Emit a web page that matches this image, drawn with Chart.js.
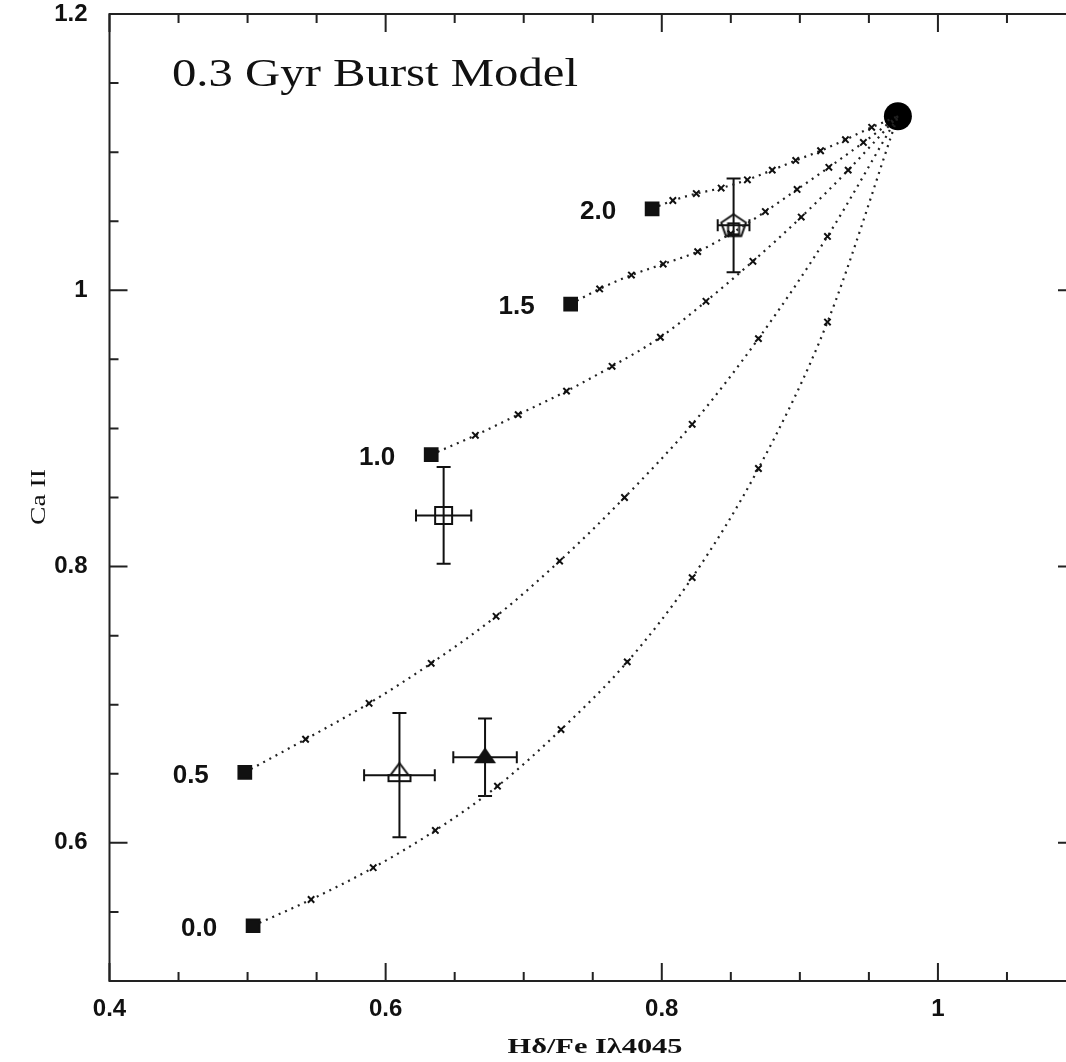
<!DOCTYPE html>
<html>
<head>
<meta charset="utf-8">
<script src="https://cdn.jsdelivr.net/npm/chart.js@4.4.1/dist/chart.umd.min.js"></script>
<style>
  html, body { margin: 0; padding: 0; background: #fff; overflow: hidden; }
  #wrap { width: 1090px; height: 1062px; }
</style>
</head>
<body>
<div id="wrap"><canvas id="myChart" width="1090" height="1062"></canvas></div>
<script>
// burst model tracks: first point = starting square, then the x marks
let trackNames = ['0.0', '0.5', '1.0', '1.5', '2.0'];
let track00X = [0.504, 0.546, 0.591, 0.636, 0.681, 0.727, 0.775, 0.822, 0.870, 0.920];
let track00Y = [0.540, 0.559, 0.582, 0.609, 0.641, 0.682, 0.731, 0.792, 0.871, 0.977];
let track05X = [0.498, 0.542, 0.588, 0.633, 0.680, 0.726, 0.773, 0.822, 0.870, 0.920];
let track05Y = [0.651, 0.675, 0.701, 0.730, 0.764, 0.804, 0.850, 0.903, 0.965, 1.039];
let track10X = [0.633, 0.665, 0.696, 0.731, 0.764, 0.799, 0.832, 0.866, 0.901, 0.935];
let track10Y = [0.881, 0.895, 0.910, 0.927, 0.945, 0.966, 0.992, 1.021, 1.053, 1.087];
let track15X = [0.734, 0.755, 0.778, 0.801, 0.826, 0.850, 0.875, 0.898, 0.921, 0.946];
let track15Y = [0.990, 1.001, 1.011, 1.019, 1.028, 1.041, 1.057, 1.073, 1.089, 1.107];
let track20X = [0.793, 0.808, 0.825, 0.843, 0.862, 0.880, 0.897, 0.915, 0.933, 0.952];
let track20Y = [1.059, 1.065, 1.070, 1.074, 1.080, 1.087, 1.094, 1.101, 1.109, 1.118];

// common end point (big dot)
let endX = 0.971;
let endY = 1.126;

// observed points with errors
let obsX    = [0.852, 0.642, 0.610, 0.672];
let obsY    = [1.047, 0.837, 0.649, 0.662];
let obsXerr = [0.0115, 0.020, 0.0256, 0.023];
let obsYerr = [0.034, 0.035, 0.045, 0.028];

let titulo = '0.3 Gyr Burst Model';
let tituloX = 'H\u03b4/Fe I\u03bb4045';
let tituloY = 'Ca II';

let tracksX = [track00X, track05X, track10X, track15X, track20X];
let tracksY = [track00Y, track05Y, track10Y, track15Y, track20Y];

function marca(dibujo){
  let c = document.createElement('canvas');
  c.width = 30; c.height = 30;
  let g = c.getContext('2d');
  g.strokeStyle = '#111';
  g.fillStyle = '#111';
  g.lineWidth = 2;
  dibujo(g);
  return c;
}

let pentagono = marca(function(g){
  g.beginPath();
  for(let k = 0; k < 5; k++){
    let a = -Math.PI/2 + k*2*Math.PI/5;
    let px = 15 + Math.cos(a)*13, py = 16 + Math.sin(a)*12;
    if(k==0) g.moveTo(px, py); else g.lineTo(px, py);
  }
  g.closePath();
  g.stroke();
  g.strokeRect(9.5, 13, 11, 11);
});

let trianguloAbierto = marca(function(g){
  g.beginPath();
  g.moveTo(15, 3);
  g.lineTo(24, 15);
  g.lineTo(6, 15);
  g.closePath();
  g.stroke();
  g.strokeRect(4, 15, 22, 6);
});

let trianguloLleno = marca(function(g){
  g.beginPath();
  g.moveTo(15, 5);
  g.lineTo(26, 21);
  g.lineTo(4, 21);
  g.closePath();
  g.fill();
});

let datasets = [];
for(let i = 0; i < tracksX.length; i++){
  let puntos = [];
  let estilos = [];
  let radios = [];
  for(let j = 0; j < tracksX[i].length; j++){
    puntos.push({x: tracksX[i][j], y: tracksY[i][j]});
    estilos.push(j == 0 ? 'rect' : 'crossRot');
    radios.push(j == 0 ? 9 : 4.5);
  }
  puntos.push({x: endX, y: endY});
  estilos.push('circle');
  radios.push(0);
  datasets.push({
    label: trackNames[i],
    data: puntos,
    showLine: true,
    borderColor: '#222',
    borderWidth: 2.2,
    borderDash: [2, 5],
    cubicInterpolationMode: 'monotone',
    pointStyle: estilos,
    pointRadius: radios,
    pointBackgroundColor: '#111',
    pointBorderColor: '#111',
    pointBorderWidth: 2
  });
}

datasets.push({
  label: 'end',
  data: [{x: endX, y: endY}],
  pointStyle: 'circle',
  pointRadius: 14,
  pointBackgroundColor: '#000',
  pointBorderColor: '#000',
  pointBorderWidth: 0
});

let estilosObs = [pentagono, 'rect', trianguloAbierto, trianguloLleno];
let radiosObs = [12, 12, 12, 12];
for(let i = 0; i < obsX.length; i++){
  datasets.push({
    label: 'obs' + i,
    data: [{x: obsX[i], y: obsY[i]}],
    pointStyle: estilosObs[i],
    pointRadius: radiosObs[i],
    pointBackgroundColor: 'rgba(0,0,0,0)',
    pointBorderColor: '#111',
    pointBorderWidth: 2,
    errX: obsXerr[i],
    errY: obsYerr[i]
  });
}

function esMayor(v){
  return Math.abs(v*5 - Math.round(v*5)) < 1e-6;
}
function etiqueta(value){
  let v = Math.round(value*100)/100;
  if(!esMayor(v)) return '';
  return v == 1 ? '1' : v.toFixed(1);
}

function textoAjustado(ctx, texto, x, y, ancho){
  let m = ctx.measureText(texto).width;
  ctx.save();
  ctx.translate(x, y);
  ctx.scale(ancho/m, 1);
  ctx.fillText(texto, 0, 0);
  ctx.restore();
}

let marco = {
  id: 'marco',
  beforeDatasetsDraw(chart){
    let ctx = chart.ctx;
    let a = chart.chartArea;
    let sx = chart.scales.x, sy = chart.scales.y;
    ctx.save();
    ctx.strokeStyle = '#222';
    ctx.lineWidth = 2;
    ctx.strokeRect(a.left, a.top, a.right - a.left, a.bottom - a.top);
    ctx.beginPath();
    sx.ticks.forEach(function(t){
      let p = sx.getPixelForValue(t.value);
      let l = esMayor(t.value) ? 18 : 9;
      ctx.moveTo(p, a.bottom); ctx.lineTo(p, a.bottom - l);
      ctx.moveTo(p, a.top); ctx.lineTo(p, a.top + l);
    });
    sy.ticks.forEach(function(t){
      let p = sy.getPixelForValue(t.value);
      let l = esMayor(t.value) ? 18 : 9;
      ctx.moveTo(a.left, p); ctx.lineTo(a.left + l, p);
      ctx.moveTo(a.right, p); ctx.lineTo(a.right - l, p);
    });
    ctx.stroke();

    // error bars
    ctx.strokeStyle = '#111';
    ctx.lineWidth = 2;
    chart.data.datasets.forEach(function(d){
      if(d.errX === undefined) return;
      let p = d.data[0];
      let cx = sx.getPixelForValue(p.x), cy = sy.getPixelForValue(p.y);
      let x1 = sx.getPixelForValue(p.x - d.errX), x2 = sx.getPixelForValue(p.x + d.errX);
      let y1 = sy.getPixelForValue(p.y - d.errY), y2 = sy.getPixelForValue(p.y + d.errY);
      ctx.beginPath();
      ctx.moveTo(x1, cy); ctx.lineTo(x2, cy);
      ctx.moveTo(cx, y1); ctx.lineTo(cx, y2);
      ctx.moveTo(x1, cy - 6); ctx.lineTo(x1, cy + 6);
      ctx.moveTo(x2, cy - 6); ctx.lineTo(x2, cy + 6);
      ctx.moveTo(cx - 7, y1); ctx.lineTo(cx + 7, y1);
      ctx.moveTo(cx - 7, y2); ctx.lineTo(cx + 7, y2);
      ctx.stroke();
    });
    ctx.restore();
  },
  afterDraw(chart){
    let ctx = chart.ctx;
    let sx = chart.scales.x, sy = chart.scales.y;
    ctx.save();
    ctx.fillStyle = '#111';
    // track labels next to starting squares
    ctx.font = 'bold 26px "Liberation Sans", Arial, sans-serif';
    ctx.textAlign = 'right';
    ctx.textBaseline = 'middle';
    for(let i = 0; i < tracksX.length; i++){
      let px = sx.getPixelForValue(tracksX[i][0]);
      let py = sy.getPixelForValue(tracksY[i][0]);
      ctx.fillText(trackNames[i], px - 36, py + 3);
    }
    // title inside the frame
    ctx.textAlign = 'left';
    ctx.textBaseline = 'alphabetic';
    ctx.font = '40px "Liberation Serif", "Times New Roman", serif';
    textoAjustado(ctx, titulo, 172, 86, 406);
    // axis titles
    ctx.textAlign = 'center';
    ctx.font = 'bold 22px "Liberation Serif", "Times New Roman", serif';
    textoAjustado(ctx, tituloX, 595, 1053, 175);
    ctx.translate(45, 497);
    ctx.rotate(-Math.PI/2);
    ctx.font = '22px "Liberation Serif", "Times New Roman", serif';
    textoAjustado(ctx, tituloY, 0, 0, 56);
    ctx.restore();
  }
};

let fuenteTicks = {family: '"Liberation Sans", Arial, sans-serif', weight: 'bold', size: 24};

function sinMargen(s){
  s.paddingTop = 0;
  s.paddingBottom = 0;
  s.paddingLeft = 0;
  s.paddingRight = 0;
}

let ctx = document.getElementById('myChart').getContext('2d');
let chart = new Chart(ctx, {
  type: 'scatter',
  data: { datasets: datasets },
  options: {
    responsive: false,
    devicePixelRatio: 1,
    animation: false,
    layout: { padding: { left: 0, right: 11, top: 12.5, bottom: 0 } },
    plugins: { legend: { display: false }, tooltip: { enabled: false } },
    scales: {
      x: {
        type: 'linear', min: 0.4, max: 1.1,
        grid: { display: false, drawTicks: false },
        border: { display: false },
        ticks: { stepSize: 0.05, autoSkip: false, maxRotation: 0, padding: 14, color: '#111', font: fuenteTicks, callback: etiqueta },
        afterFit: function(s){ s.height = 81; sinMargen(s); }
      },
      y: {
        type: 'linear', min: 0.5, max: 1.2,
        grid: { display: false, drawTicks: false },
        border: { display: false },
        ticks: { stepSize: 0.05, autoSkip: false, padding: 22, color: '#111', font: fuenteTicks, callback: etiqueta },
        afterFit: function(s){ s.width = 109.5; sinMargen(s); }
      }
    }
  },
  plugins: [marco]
});
</script>
</body>
</html>
